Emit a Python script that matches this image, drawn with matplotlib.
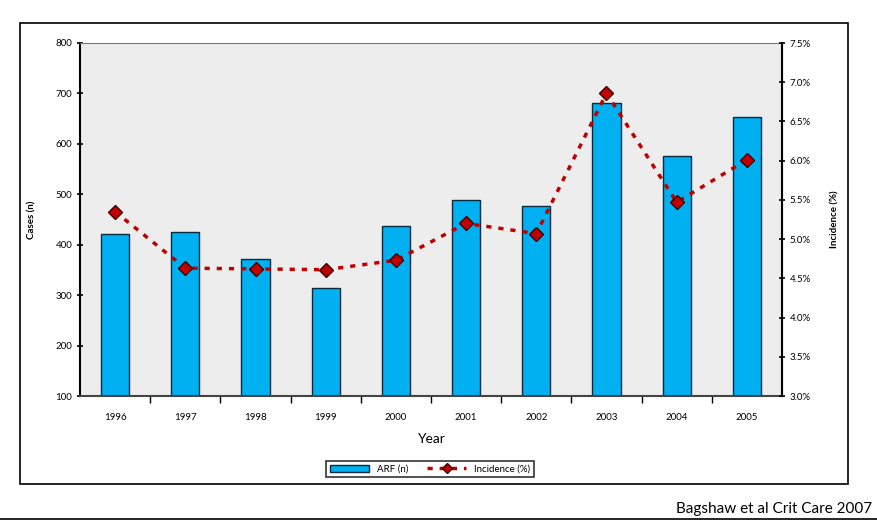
#!/usr/bin/env python3
"""ARF cases and incidence by year (Bagshaw et al Crit Care 2007)."""

import matplotlib

matplotlib.use("Agg")
import matplotlib.pyplot as plt
from matplotlib.patches import Rectangle
from matplotlib.lines import Line2D
from matplotlib.ticker import FuncFormatter, FixedLocator

plt.rcParams["font.family"] = ["Lato", "DejaVu Sans"]

YEARS = ["1996", "1997", "1998", "1999", "2000", "2001", "2002", "2003", "2004", "2005"]
ARF_CASES = [422, 425, 371, 314, 437, 489, 477, 681, 576, 653]
INCIDENCE = [5.35, 4.63, 4.62, 4.61, 4.73, 5.20, 5.07, 6.86, 5.47, 6.01]

BAR_COLOR = "#00b0f0"
LINE_COLOR = "#c00000"


def main():
    fig = plt.figure(figsize=(8.78, 5.21), dpi=100)
    fig.patch.set_facecolor("white")

    # outer chart frame and bottom slide line
    fig.patches.append(Rectangle((20 / 878, 1 - 484 / 521), 828 / 878, 461 / 521,
                                 transform=fig.transFigure, fill=False,
                                 edgecolor="black", linewidth=1.2))
    fig.add_artist(Line2D([0, 1], [1 - 519 / 521] * 2, transform=fig.transFigure,
                          color="black", linewidth=1.2))

    ax = fig.add_axes([80 / 878, 1 - 396 / 521, 702 / 878, 353 / 521])
    ax.set_facecolor("#ededed")
    x = list(range(len(YEARS)))
    ax.bar(x, ARF_CASES, width=0.4, bottom=0, color=BAR_COLOR,
           edgecolor="#0a2a40", linewidth=1.0, zorder=2, label="ARF (n)")
    ax.set_xlim(-0.5, len(YEARS) - 0.5)
    ax.set_ylim(100, 800)
    ax.set_yticks(range(100, 801, 100))
    ax.set_xticks(x)
    ax.set_xticklabels(YEARS, fontsize=7)
    ax.xaxis.set_minor_locator(FixedLocator([i + 0.5 for i in x[:-1]]))
    ax.tick_params(axis="x", which="major", length=0, pad=12)
    ax.tick_params(axis="x", which="minor", length=5, direction="out", width=1)
    ax.tick_params(axis="y", labelsize=7, length=4, direction="inout", width=1.2)
    ax.set_xlabel("Year", fontsize=10, labelpad=8)
    ax.set_ylabel("Cases (n)", fontsize=7, fontweight="bold", labelpad=14)

    for side in ("top", "right"):
        ax.spines[side].set_color("#777777")
    ax.spines["left"].set_linewidth(1.5)
    ax.spines["bottom"].set_color("#444444")
    ax.spines["bottom"].set_linewidth(1.5)

    ax2 = ax.twinx()
    ax2.plot(x, INCIDENCE, color=LINE_COLOR, linestyle=(0, (1.5, 2)),
             linewidth=2.5, marker="D", markersize=7,
             markerfacecolor=LINE_COLOR, markeredgecolor="#3a0000",
             markeredgewidth=1.0, zorder=3, label="Incidence (%)")
    ax2.set_ylim(3.0, 7.5)
    ax2.set_yticks([3.0 + 0.5 * i for i in range(10)])
    ax2.yaxis.set_major_formatter(FuncFormatter(lambda v, _: f"{v:.1f}%"))
    ax2.tick_params(axis="y", labelsize=7, length=4, direction="inout", width=1.2)
    ax2.set_ylabel("Incidence (%)", fontsize=7, fontweight="bold", labelpad=14)
    ax2.spines["right"].set_linewidth(1.5)
    for side in ("top", "left", "bottom"):
        ax2.spines[side].set_visible(False)

    handles = ax.get_legend_handles_labels()[0] + ax2.get_legend_handles_labels()[0]
    labels = ["ARF (n)", "Incidence (%)"]
    leg = fig.legend(handles, labels, loc="center", bbox_to_anchor=(430 / 878, 1 - 469 / 521),
                     ncol=2, fontsize=7, frameon=True, fancybox=False,
                     edgecolor="black", handlelength=4, columnspacing=2.0,
                     borderpad=0.4, markerscale=0.7)
    leg.get_frame().set_linewidth(1.2)

    fig.text(872 / 878, 1 - 509 / 521, "Bagshaw et al Crit Care 2007",
             ha="right", va="center", fontsize=11)

    fig.savefig("out.png", dpi=100)


if __name__ == "__main__":
    main()
